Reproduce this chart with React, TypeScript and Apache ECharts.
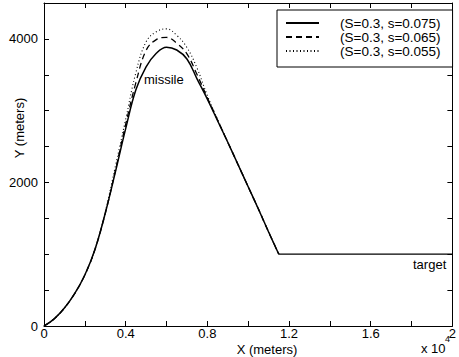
import React, { useEffect, useRef } from "react";
import * as echarts from "echarts";

const xMissile = [0, 0.05, 0.1, 0.15, 0.2, 0.25, 0.3, 0.35, 0.4, 0.45, 0.5, 0.55, 0.6, 0.65, 0.7, 0.75, 0.8, 0.85, 0.9, 0.95, 1.0, 1.05, 1.1, 1.15];
const ySolid = [0, 100, 250, 450, 710, 1070, 1570, 2150, 2750, 3290, 3610, 3800, 3885, 3845, 3720, 3440, 3160, 2860, 2560, 2250, 1940, 1630, 1310, 1000];
const yDashed = [0, 100, 250, 450, 710, 1070, 1570, 2170, 2810, 3390, 3840, 3990, 4020, 3940, 3790, 3500, 3180, 2870, 2560, 2250, 1940, 1630, 1310, 1000];
const yDotted = [0, 100, 250, 450, 710, 1070, 1590, 2230, 2880, 3530, 3960, 4100, 4140, 4050, 3880, 3590, 3210, 2880, 2565, 2250, 1940, 1630, 1310, 1000];
const xTarget = [1.15, 2.0];
const yTarget = [1000, 1000];
const seriesNames = ["(S=0.3, s=0.075)", "(S=0.3, s=0.065)", "(S=0.3, s=0.055)"];

const FONT = "Liberation Sans, Arial, sans-serif";

function pairs(xs: number[], ys: number[]) {
  return xs.map((x, i) => [x, ys[i]]);
}

export default function App() {
  const ref = useRef<HTMLDivElement>(null);
  useEffect(() => {
    if (!ref.current) return;
    const chart = echarts.init(ref.current, null, { renderer: "svg" });
    const axisCommon = {
      axisLine: { show: true, onZero: false, lineStyle: { color: "#000", width: 1 } },
      axisTick: { show: true, inside: true, length: 5, lineStyle: { color: "#000" } },
      splitLine: { show: false },
    };
    const xFmt = (v: number) => {
      const k = Math.round(v / 0.4);
      if (Math.abs(k * 0.4 - v) > 1e-6) return "";
      if (Math.abs(v) < 1e-9) return "0";
      if (Math.abs(v - 2) < 1e-9) return "2";
      return v.toFixed(1);
    };
    const yFmt = (v: number) => (v % 2000 === 0 ? String(v) : "");
    const lineBase = { type: "line", symbol: "none", showSymbol: false, smooth: 0.4 };
    chart.setOption({
      animation: false,
      backgroundColor: "#fff",
      grid: { left: 44, right: 2, top: 3, bottom: 31 },
      xAxis: [
        {
          type: "value", min: 0, max: 2, interval: 0.2, position: "bottom",
          ...axisCommon,
          axisLabel: { formatter: xFmt, color: "#000", fontSize: 13, lineHeight: 11, fontFamily: FONT, margin: 2, showMaxLabel: true },
        },
        {
          type: "value", min: 0, max: 2, interval: 0.2, position: "top",
          ...axisCommon,
          axisLabel: { show: false },
        },
      ],
      yAxis: [
        {
          type: "value", min: 0, max: 4500, interval: 500, position: "left",
          ...axisCommon,
          axisLabel: { formatter: yFmt, color: "#000", fontSize: 13, fontFamily: FONT, margin: 6 },
        },
        {
          type: "value", min: 0, max: 4500, interval: 500, position: "right",
          ...axisCommon,
          axisLabel: { show: false },
        },
      ],
      legend: {
        data: seriesNames,
        orient: "vertical",
        left: 277,
        top: 10,
        itemWidth: 33,
        itemHeight: 10,
        itemGap: 0,
        padding: [6, 12, 9, 8],
        borderColor: "#000",
        borderWidth: 1,
        backgroundColor: "#fff",
        itemStyle: { opacity: 0 },
        textStyle: { color: "#000", fontSize: 13.5, fontFamily: FONT, lineHeight: 11, padding: [0, 0, 0, 16] },
      },
      series: [
        {
          ...lineBase, name: seriesNames[0], data: pairs(xMissile, ySolid),
          lineStyle: { color: "#000", width: 1.5, type: "solid" },
          itemStyle: { color: "#000" },
        },
        {
          ...lineBase, name: seriesNames[1], data: pairs(xMissile, yDashed),
          lineStyle: { color: "#000", width: 1.3, type: [6, 4] },
          itemStyle: { color: "#000" },
        },
        {
          ...lineBase, name: seriesNames[2], data: pairs(xMissile, yDotted),
          lineStyle: { color: "#000", width: 1.1, type: [1, 2.5] },
          itemStyle: { color: "#000" },
        },
        {
          ...lineBase, name: "target", smooth: false, data: pairs(xTarget, yTarget),
          lineStyle: { color: "#000", width: 1.3, type: "solid" },
          itemStyle: { color: "#000" },
        },
      ],
      graphic: [
        { type: "text", left: 144, top: 73, style: { text: "missile", fill: "#000", fontSize: 13, fontFamily: FONT } },
        { type: "text", left: 413, top: 258, style: { text: "target", fill: "#000", fontSize: 13, fontFamily: FONT } },
        { type: "text", x: 267, y: 349, style: { text: "X (meters)", fill: "#000", fontSize: 13, lineHeight: 12, fontFamily: FONT, align: "center", verticalAlign: "middle" } },
        {
          type: "text", x: 19, y: 128, rotation: Math.PI / 2,
          style: { text: "Y (meters)", fill: "#000", fontSize: 13, fontFamily: FONT, align: "center", verticalAlign: "middle" },
        },
        { type: "text", x: 421, y: 348, style: { text: "x 10", fill: "#000", fontSize: 13, fontFamily: FONT, align: "left", verticalAlign: "middle" } },
        { type: "text", x: 445, y: 339, style: { text: "4", fill: "#000", fontSize: 9, fontFamily: FONT, align: "left", verticalAlign: "middle" } },
      ],
    });
    return () => chart.dispose();
  }, []);
  return <div ref={ref} style={{ position: "fixed", left: 0, top: 0, width: 459, height: 357, background: "#fff" }} />;
}
